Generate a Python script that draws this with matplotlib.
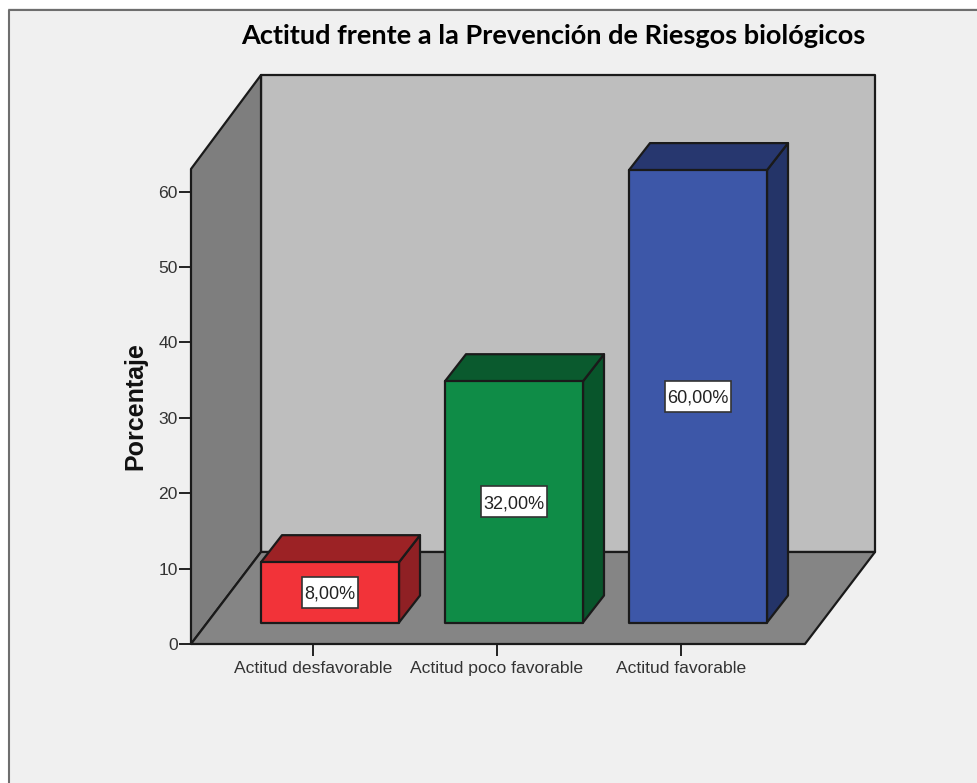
import matplotlib
matplotlib.use("Agg")
import matplotlib.pyplot as plt
from matplotlib.patches import Polygon, Rectangle
from matplotlib.lines import Line2D

categories = ["Actitud desfavorable", "Actitud poco favorable", "Actitud favorable"]
values = [8.0, 32.0, 60.0]
yticks = [0, 10, 20, 30, 40, 50, 60]
title = "Actitud frente a la Prevención de Riesgos biológicos"
ylabel = "Porcentaje"
front_colors = ["#F23339", "#0F8C47", "#3D57A8"]
top_colors = ["#9C2225", "#0A5A2E", "#27376F"]
side_colors = ["#8F2024", "#08552B", "#243468"]

W, H = 978, 783
fig = plt.figure(figsize=(W / 100, H / 100), dpi=100, facecolor="#F0F0F0")

def fx(p): return p / W
def fy(p): return 1 - p / H

fig.add_artist(Rectangle((0, 0), fx(8), 1, transform=fig.transFigure, fc="white", ec="none"))
fig.add_artist(Rectangle((0, fy(8)), 1, 8 / H, transform=fig.transFigure, fc="white", ec="none"))
fig.add_artist(Line2D([fx(9), fx(9), 1], [0, fy(9.5), fy(9.5)], transform=fig.transFigure, color="#6E6E6E", lw=1.5))

px_l, px_r, px_b, px_t = 191, 805, 644, 169
ax = fig.add_axes([fx(px_l), fy(px_b), (px_r - px_l) / W, (px_b - px_t) / H])
ppu = 7.54
cat_px = 184.0
ax.set_xlim((px_l - 313) / cat_px, (px_r - 313) / cat_px)
ax.set_ylim(0, (px_b - px_t) / ppu)
ax.patch.set_alpha(0)
for s in ("top", "right", "left", "bottom"):
    ax.spines[s].set_visible(False)

xd = 70 / cat_px
yd = 92 / ppu
yd_top = 94 / ppu
bxd = 21 / cat_px
byd = 27 / ppu
x0, x1 = ax.get_xlim()
y1 = ax.get_ylim()[1]
edge = "#1A1A1A"
elw = 1.6

def poly(pts, fc, z):
    ax.add_patch(Polygon(pts, closed=True, fc=fc, ec=edge, lw=elw, clip_on=False, zorder=z, joinstyle="round"))

poly([(x0 + xd, yd), (x1 + xd, yd), (x1 + xd, y1 + yd_top), (x0 + xd, y1 + yd_top)], "#BEBEBE", 1)
poly([(x0, 0), (x0 + xd, yd), (x0 + xd, y1 + yd_top), (x0, y1)], "#7E7E7E", 2)
poly([(x0, 0), (x1, 0), (x1 + xd, yd), (x0 + xd, yd)], "#858585", 2)

bar_w = 138 / cat_px
bar_off = 17 / cat_px
bar_base = 21.5 / ppu
box_h = 31 / ppu
for i, v in enumerate(values):
    l = i + bar_off - bar_w / 2
    r = l + bar_w
    b = bar_base
    t = bar_base + v
    poly([(r, b), (r + bxd, b + byd), (r + bxd, t + byd), (r, t)], side_colors[i], 3 + i)
    poly([(l, t), (r, t), (r + bxd, t + byd), (l + bxd, t + byd)], top_colors[i], 3 + i)
    poly([(l, b), (r, b), (r, t), (l, t)], front_colors[i], 3 + i)
    txt = f"{v:.2f}%".replace(".", ",")
    cx, cy = i + bar_off, b + v / 2
    box_w = (10 + 9.2 * len(txt)) / cat_px
    ax.add_patch(Rectangle((cx - box_w / 2, cy - box_h / 2), box_w, box_h, fc="white", ec="#333333",
                           lw=1.2, clip_on=False, zorder=9))
    ax.text(cx, cy, txt, ha="center", va="center_baseline",
            family="Liberation Sans", fontsize=13, color="#222222", zorder=10)

ax.set_yticks(yticks)
ax.set_xticks(range(len(categories)))
ax.set_xticklabels(categories)
ax.tick_params(axis="both", length=8.5, width=1.4, color="#222222", labelcolor="#333333", pad=1,
               labelsize=12.6)
ax.tick_params(axis="x", pad=4)
for lab in ax.get_xticklabels() + ax.get_yticklabels():
    lab.set_family("Liberation Sans")

fig.text(fx(135), fy(406), ylabel, rotation=90, ha="center", va="center",
         family="Liberation Sans", fontweight="bold", fontsize=18, color="#111111")
fig.text(fx(553), fy(36), title, ha="center", va="center",
         family="Lato", fontweight="bold", fontsize=19.5, color="black")

fig.savefig("out.png", dpi=100, facecolor=fig.get_facecolor())
